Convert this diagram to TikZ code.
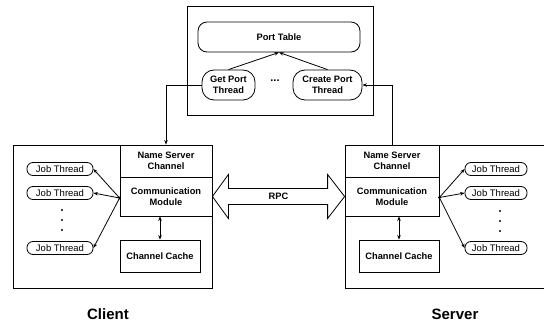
\documentclass[tikz,border=0pt]{standalone}
\usepackage{fontspec}
\setmainfont{Liberation Sans}
\usetikzlibrary{arrows.meta,calc}

\begin{document}
\begin{tikzpicture}[x=1pt,y=-1pt,
  line width=0.8pt,
  >={Stealth[length=4.5pt,width=3.5pt]},
  frame/.style={draw, inner sep=0pt, minimum width=#1},
  blk/.style={draw, inner sep=0pt, align=center, font=\bfseries\fontsize{9.3}{10.8}\selectfont},
  pill/.style={draw, rounded corners=6pt, inner sep=0pt, minimum width=66pt,
               minimum height=13pt, font=\fontsize{9.5}{11}\selectfont},
  portnode/.style={blk, rounded corners=12pt, minimum height=30pt},
  bigtitle/.style={font=\bfseries\fontsize{15}{18}\selectfont},
  dotmark/.style={fill, circle, inner sep=0pt, minimum size=2.4pt}]

\useasboundingbox (0,0) rectangle (544,329);

% ---------- name server (top) ----------
\node[frame=186pt, minimum height=109pt] (top) at (280,60.5) {};
\node[blk, rounded corners=9pt, minimum width=162pt, minimum height=30pt] (pt) at (279,37) {Port Table};
\node[portnode, minimum width=53pt] (gpt) at (228.5,85) {Get Port\\Thread};
\node[portnode, minimum width=69pt] (cpt) at (327.5,85) {Create Port\\Thread};
\node[font=\bfseries\fontsize{11}{12}\selectfont] (ell) at (275,80.5) {...};
\draw[->] (gpt.north) -- (pt.south);
\draw[->] (cpt.north) -- (pt.south);

% ---------- client ----------
\node[frame=199pt, minimum height=143pt] (client) at (112.5,216.5) {};
\node[blk, minimum width=92pt, minimum height=32pt] (nsc1) at (166,161) {Name Server\\Channel};
\node[blk, minimum width=92pt, minimum height=39pt] (cm1) at (166,196.5) {Communication\\Module};
\node[blk, minimum width=80pt, minimum height=32pt] (cc1) at (160,256) {Channel Cache};
\node[pill] (cj1) at (60,169) {Job Thread};
\node[pill] (cj2) at (60,193) {Job Thread};
\node[pill] (cj3) at (60,248) {Job Thread};
\node[dotmark] (cd1) at (62,210) {};
\node[dotmark] (cd2) at (62,220) {};
\node[dotmark] (cd3) at (62,230) {};
\coordinate (csrc) at ($(cm1.west)+(0,1.5)$);
\fill (csrc) circle (1.5pt);
\draw[->] (csrc) -- (cj1.east);
\draw[->] (csrc) -- (cj2.east);
\draw[->] (csrc) -- (cj3.east);
\draw[<->] (cm1.south -| cc1.north) -- (cc1.north);
\node[bigtitle] (clabel) at (108,314) {Client};

% ---------- server ----------
\node[frame=200pt, minimum height=143pt] (server) at (445,216.5) {};
\node[blk, minimum width=94pt, minimum height=32pt] (nsc2) at (392,161) {Name Server\\Channel};
\node[blk, minimum width=94pt, minimum height=39pt] (cm2) at (392,196.5) {Communication\\Module};
\node[blk, minimum width=80pt, minimum height=32pt] (cc2) at (399,256) {Channel Cache};
\node[pill, minimum width=62pt] (sj1) at (496,169) {Job Thread};
\node[pill, minimum width=62pt] (sj2) at (496,193) {Job Thread};
\node[pill, minimum width=62pt] (sj3) at (496,248) {Job Thread};
\node[dotmark] (sd1) at (500,211) {};
\node[dotmark] (sd2) at (500,221) {};
\node[dotmark] (sd3) at (500,231) {};
\coordinate (ssrc) at ($(cm2.east)+(0,1)$);
\fill (ssrc) circle (1.5pt);
\draw[->] (ssrc) -- (sj1.west);
\draw[->] (ssrc) -- (sj2.west);
\draw[->] (ssrc) -- (sj3.west);
\draw[<->] (cm2.south -| cc2.north) -- (cc2.north);
\node[bigtitle] (slabel) at (455,314) {Server};

% ---------- port requests ----------
\draw[->] (gpt.west) -| (nsc1.north);
\draw[->] (nsc2.north) |- (cpt.east);

% ---------- RPC channel (hollow double arrow) ----------
\coordinate (rl) at (cm1.east);
\coordinate (rr) at (cm2.west);
\draw[fill=white, line join=miter]
  (rl) -- ($(rl)+(16,-22)$) -- ($(rl)+(16,-8)$) -- ($(rr)+(-17,-8)$) -- ($(rr)+(-17,-22)$)
  -- (rr) -- ($(rr)+(-17,22)$) -- ($(rr)+(-17,8)$) -- ($(rl)+(16,8)$) -- ($(rl)+(16,22)$) -- cycle;
\node[font=\bfseries\fontsize{9.3}{10}\selectfont] (rpc) at ($(rl)!0.5!(rr)$) {RPC};

\end{tikzpicture}
\end{document}
